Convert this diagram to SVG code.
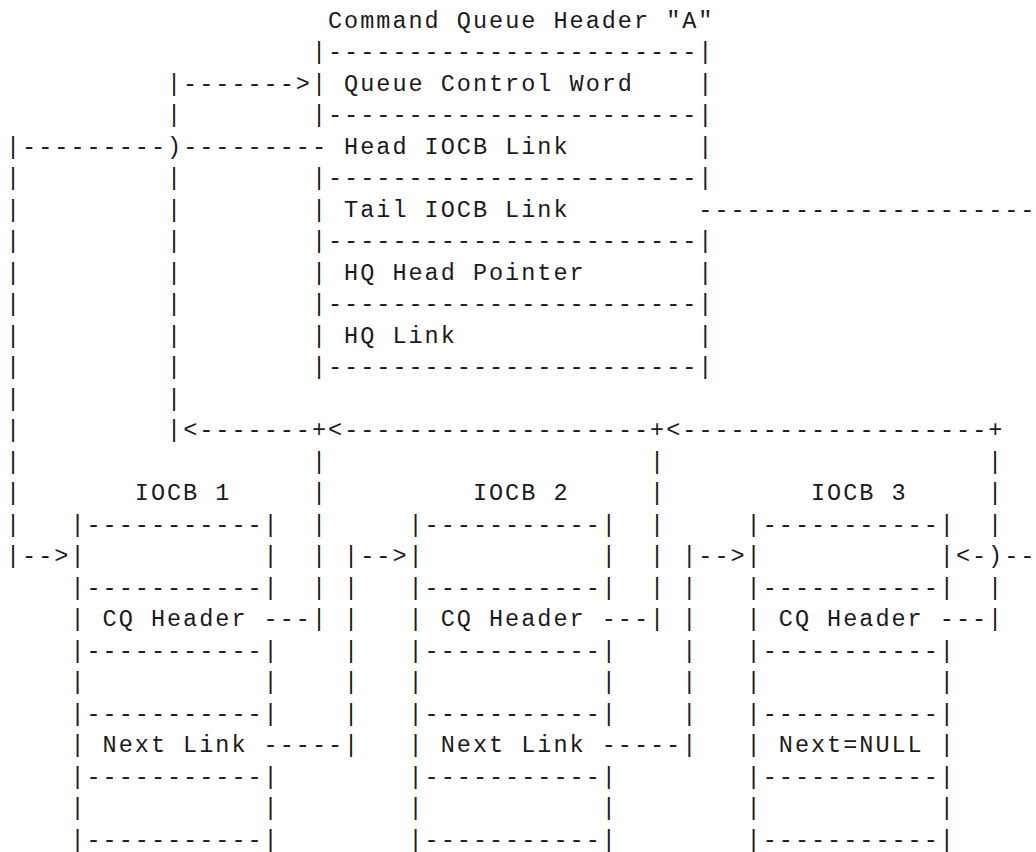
<svg xmlns="http://www.w3.org/2000/svg" width="1036" height="852" viewBox="0 0 1036 852" xml:space="preserve">
<style>
text { font-family: "Liberation Mono", "Courier New", monospace; font-size: 23.5px; letter-spacing: 2px; fill: #1a1a1a; white-space: pre; }
</style>
<rect width="1036" height="852" fill="#ffffff"/>
<g id="header">
<text x="328" y="27.6">Command Queue Header "A"</text>
<text x="311.9" y="59.1">|-----------------------|</text>
<text x="311.9" y="90.6">| Queue Control Word    |</text>
<text x="311.9" y="122.1">|-----------------------|</text>
<text x="328" y="153.6"> Head IOCB Link        |</text>
<text x="311.9" y="185.1">|-----------------------|</text>
<text x="311.9" y="216.6">| Tail IOCB Link</text>
<text x="311.9" y="248.1">|-----------------------|</text>
<text x="311.9" y="279.6">| HQ Head Pointer       |</text>
<text x="311.9" y="311.1">|-----------------------|</text>
<text x="311.9" y="342.6">| HQ Link               |</text>
<text x="311.9" y="374.1">|-----------------------|</text>
</g>
<g id="iocb1">
<text x="134.8" y="500.1">IOCB 1</text>
<text x="70.4" y="531.6">|-----------|</text>
<text x="70.4" y="563.1">|           |</text>
<text x="70.4" y="594.6">|-----------|</text>
<text x="70.4" y="626.1">| CQ Header</text>
<text x="70.4" y="657.6">|-----------|</text>
<text x="70.4" y="689.1">|           |</text>
<text x="70.4" y="720.6">|-----------|</text>
<text x="70.4" y="752.1">| Next Link</text>
<text x="70.4" y="783.6">|-----------|</text>
<text x="70.4" y="815.1">|           |</text>
<text x="70.4" y="846.6">|-----------|</text>
</g>
<g id="iocb2">
<text x="472.9" y="500.1">IOCB 2</text>
<text x="408.5" y="531.6">|-----------|</text>
<text x="408.5" y="563.1">|           |</text>
<text x="408.5" y="594.6">|-----------|</text>
<text x="408.5" y="626.1">| CQ Header</text>
<text x="408.5" y="657.6">|-----------|</text>
<text x="408.5" y="689.1">|           |</text>
<text x="408.5" y="720.6">|-----------|</text>
<text x="408.5" y="752.1">| Next Link</text>
<text x="408.5" y="783.6">|-----------|</text>
<text x="408.5" y="815.1">|           |</text>
<text x="408.5" y="846.6">|-----------|</text>
</g>
<g id="iocb3">
<text x="811" y="500.1">IOCB 3</text>
<text x="746.6" y="531.6">|-----------|</text>
<text x="746.6" y="563.1">|           |</text>
<text x="746.6" y="594.6">|-----------|</text>
<text x="746.6" y="626.1">| CQ Header</text>
<text x="746.6" y="657.6">|-----------|</text>
<text x="746.6" y="689.1">|           |</text>
<text x="746.6" y="720.6">|-----------|</text>
<text x="746.6" y="752.1">| Next=NULL |</text>
<text x="746.6" y="783.6">|-----------|</text>
<text x="746.6" y="815.1">|           |</text>
<text x="746.6" y="846.6">|-----------|</text>
</g>
<g id="connectors">
<text x="167" y="90.6">|-------&gt;</text>
<text x="167" y="122.1">|</text>
<text x="6" y="153.6">|---------)---------</text>
<text x="6" y="185.1">|         |</text>
<text x="6" y="216.6">|         |</text>
<text x="698.3" y="216.6">---------------------</text>
<text x="6" y="248.1">|         |</text>
<text x="6" y="279.6">|         |</text>
<text x="6" y="311.1">|         |</text>
<text x="6" y="342.6">|         |</text>
<text x="6" y="374.1">|         |</text>
<text x="6" y="405.6">|         |</text>
<text x="6" y="437.1">|         |&lt;-------+&lt;-------------------+&lt;-------------------+</text>
<text x="6" y="468.6">|</text>
<text x="311.9" y="468.6">|</text>
<text x="650" y="468.6">|</text>
<text x="988.1" y="468.6">|</text>
<text x="6" y="500.1">|</text>
<text x="311.9" y="500.1">|</text>
<text x="650" y="500.1">|</text>
<text x="988.1" y="500.1">|</text>
<text x="6" y="531.6">|</text>
<text x="311.9" y="531.6">|</text>
<text x="650" y="531.6">|</text>
<text x="988.1" y="531.6">|</text>
<text x="6" y="563.1">|--&gt;</text>
<text x="311.9" y="563.1">|</text>
<text x="344.1" y="563.1">|--&gt;</text>
<text x="650" y="563.1">|</text>
<text x="682.2" y="563.1">|--&gt;</text>
<text x="955.9" y="563.1">&lt;-)--</text>
<text x="311.9" y="594.6">|</text>
<text x="344.1" y="594.6">|</text>
<text x="650" y="594.6">|</text>
<text x="682.2" y="594.6">|</text>
<text x="988.1" y="594.6">|</text>
<text x="263.6" y="626.1">---|</text>
<text x="344.1" y="626.1">|</text>
<text x="601.7" y="626.1">---|</text>
<text x="682.2" y="626.1">|</text>
<text x="939.8" y="626.1">---|</text>
<text x="344.1" y="657.6">|</text>
<text x="682.2" y="657.6">|</text>
<text x="344.1" y="689.1">|</text>
<text x="682.2" y="689.1">|</text>
<text x="344.1" y="720.6">|</text>
<text x="682.2" y="720.6">|</text>
<text x="263.6" y="752.1">-----|</text>
<text x="601.7" y="752.1">-----|</text>
</g>
</svg>
